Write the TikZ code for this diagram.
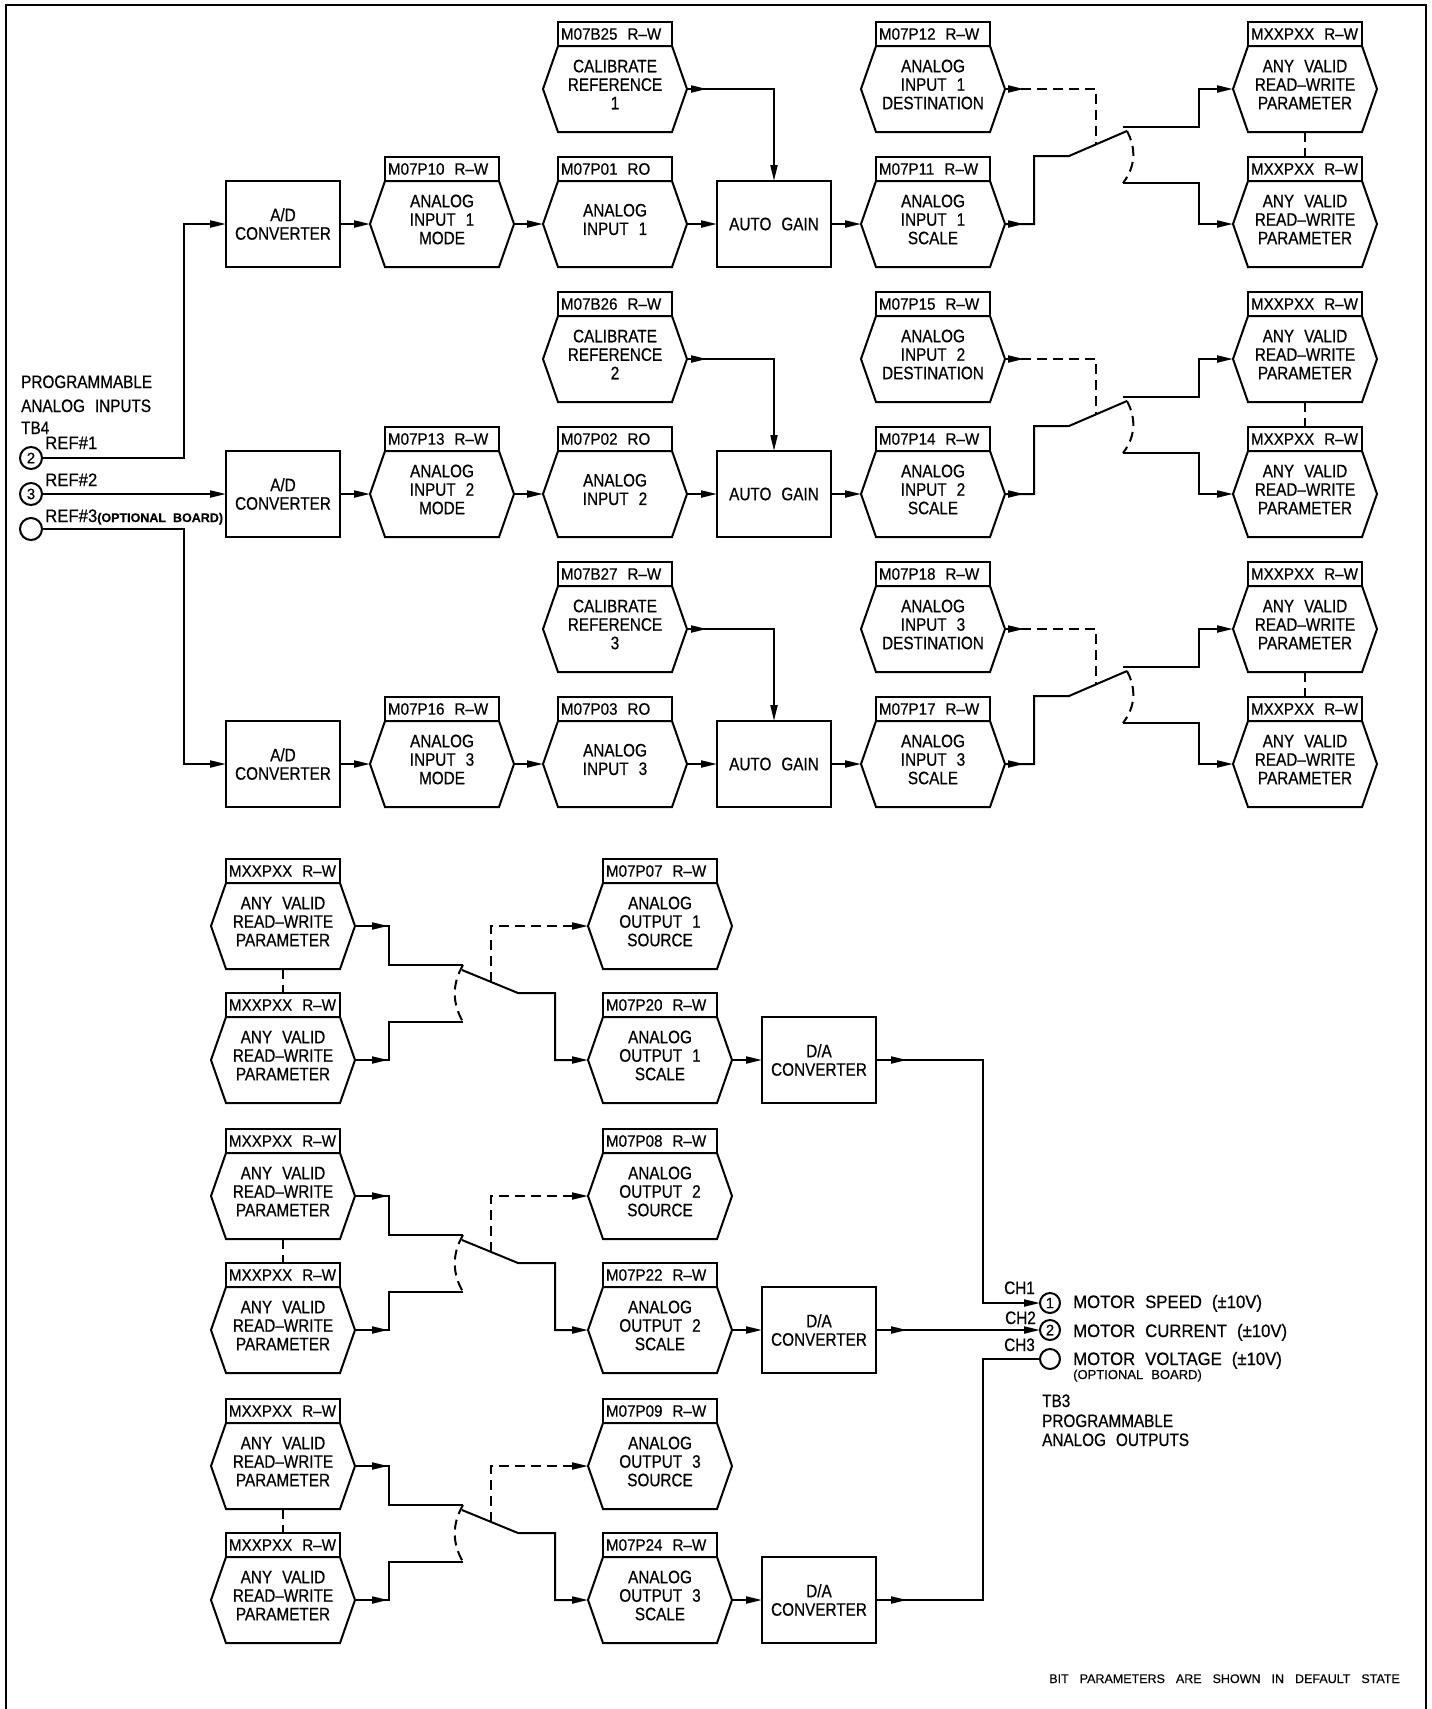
\documentclass[tikz,border=0pt]{standalone}
\usepackage{fontspec}
\setmainfont{Liberation Sans}
\newfontfamily\cadfont{Liberation Sans}[FakeStretch=0.85,FakeBold=0.6]
\newfontfamily\cadlab{Liberation Sans}[FakeStretch=0.92,FakeBold=0.5]
\newfontfamily\cadwide{Liberation Sans}[FakeStretch=0.93,FakeBold=0.6]
\newfontfamily\cadn{Liberation Sans}[FakeBold=0.4]
\usetikzlibrary{arrows.meta,decorations.markings}
\newcommand\bodyfont{\cadfont\fontsize{18}{18.5}\selectfont\spaceskip=10pt\relax}
\newcommand\widefont{\cadwide\fontsize{18}{18.5}\selectfont\spaceskip=10pt\relax}
\newcommand\labfont{\cadlab\fontsize{16.5}{17}\selectfont}
\newcommand\gap{\hspace{10pt}}
\newcommand\optfont{\cadn\fontsize{13}{14}\selectfont\spaceskip=8pt\relax}
\newcommand\optbold{\cadn\bfseries\fontsize{12.5}{13}\selectfont\spaceskip=7pt\relax}
\newcommand\notefont{\cadn\fontsize{12.5}{13}\selectfont\spaceskip=11pt\relax}
\newcommand\numfont{\cadn\fontsize{15}{15}\selectfont}
\tikzset{
  cadtip/.tip={Triangle[length=16pt,width=7pt]},
  ln/.style={line width=2pt},
  conn/.style={ln,-cadtip},
  dashln/.style={ln,dash pattern=on 10pt off 6pt},
  outmark/.style={postaction={decorate,decoration={markings,mark=at position #1 with {\arrow{cadtip}}}}},
  box/.style={draw,ln,minimum width=114pt,minimum height=86pt,inner sep=0pt,outer sep=0pt,font=\bodyfont,align=center},
  hexbody/.style={minimum width=114pt,minimum height=86pt,inner sep=0pt,outer sep=0pt},
  hexlab/.style={draw,ln,minimum width=114pt,minimum height=24pt,inner ysep=0pt,inner xsep=3pt,outer sep=0pt,font=\labfont},
  hextext/.style={inner sep=0pt,font=\bodyfont,align=center},
  term/.style={circle,draw,ln,minimum size=22pt,inner sep=0pt,outer sep=0pt,font=\numfont},
  txt/.style={inner sep=0pt,font=\bodyfont},
  wtxt/.style={inner sep=0pt,font=\widefont},
}
\newcommand\hexp[5]{%
  \node[hexbody] (#1) at (#2,#3) {};
  \draw[ln] (#1.north west) -- (#1.north east) -- ([xshift=15pt]#1.east) -- (#1.south east) -- (#1.south west) -- ([xshift=-15pt]#1.west) -- cycle;
  \node[hexlab,anchor=south] (#1-l) at (#1.north) {\makebox[108pt][l]{#4}};
  \node[hextext] (#1-t) at ([yshift=4.5pt]#1.center) {#5};
  \coordinate (#1-i) at ([xshift=-15pt]#1.west);
  \coordinate (#1-o) at ([xshift=15pt]#1.east);
}
\begin{document}
\begin{tikzpicture}[x=1pt,y=-1pt]
\useasboundingbox (0,0) rectangle (1432,1709);
\draw[line width=2.5pt] (6,1709) -- (6,5) -- (1426,5) -- (1426,1709);

% ---------------- analog inputs ----------------
\foreach \r/\cy/\pa/\pb/\pc/\pd/\pe in {1/224/10/01/25/12/11,2/494/13/02/26/15/14,3/764/16/03/27/18/17}{
  \node[box] (ad\r) at (283,\cy) {A/D\\CONVERTER};
  \hexp{mode\r}{442}{\cy}{M07P\pa\gap R–W}{ANALOG\\INPUT \r\\MODE}
  \hexp{ain\r}{615}{\cy}{M07P\pb\gap RO}{ANALOG\\INPUT \r}
  \hexp{cal\r}{615}{\cy-135}{M07B\pc\gap R–W}{CALIBRATE\\REFERENCE\\\r}
  \node[box] (ag\r) at (774,\cy) {AUTO GAIN};
  \hexp{scl\r}{933}{\cy}{M07P\pe\gap R–W}{ANALOG\\INPUT \r\\SCALE}
  \hexp{dst\r}{933}{\cy-135}{M07P\pd\gap R–W}{ANALOG\\INPUT \r\\DESTINATION}
  \hexp{pa\r}{1305}{\cy-135}{MXXPXX\gap R–W}{ANY VALID\\READ–WRITE\\PARAMETER}
  \hexp{pb\r}{1305}{\cy}{MXXPXX\gap R–W}{ANY VALID\\READ–WRITE\\PARAMETER}
  \coordinate (sp\r) at (1069,\cy-68);
  \coordinate (sb\r) at (1127,\cy-93);
  \coordinate (st\r) at (1123,\cy-97);
  \coordinate (sl\r) at (1123,\cy-41);
  \coordinate (sd\r) at (1096,\cy-80);
  \draw[conn] (ad\r.east) -- (mode\r-i);
  \draw[conn] (mode\r-o) -- (ain\r-i);
  \draw[conn] (ain\r-o) -- (ag\r.west);
  \draw[conn,outmark=20pt] (cal\r-o) -| (ag\r.north);
  \draw[conn] (ag\r.east) -- (scl\r-i);
  \draw[ln,outmark=19pt] (scl\r-o) -- ++(29,0) |- (sp\r) -- (sb\r);
  \draw[conn] (st\r) -- ++(76,0) |- (pa\r-i);
  \draw[conn] (sl\r) -- ++(76,0) |- (pb\r-i);
  \draw[dashln,outmark=19pt] (dst\r-o) -| (sd\r);
  \draw[dashln] (sb\r) .. controls (1136,\cy-76) and (1136,\cy-58) .. (sl\r);
  \draw[dashln] (pa\r.south) -- (pb\r-l.north);
}

% TB4 terminals
\node[term] (t2) at (31,458) {2};
\node[term] (t3) at (31,494) {3};
\node[term] (te) at (31,529) {};
\draw[conn] (t2.east) -- ++(142,0) |- (ad1.west);
\draw[conn] (t3.east) -- (ad2.west);
\draw[conn] (te.east) -- ++(142,0) |- (ad3.west);
\node[txt,anchor=base west] (tpa) at (21,388) {PROGRAMMABLE};
\node[txt,anchor=base west] (tpb) at (21,412) {ANALOG INPUTS};
\node[txt,anchor=base west] (ttb) at (21,434) {TB4};
\node[wtxt,anchor=base west] (tr1) at (45,449) {REF\#1};
\node[wtxt,anchor=base west] (tr2) at (45,486) {REF\#2};
\node[wtxt,anchor=base west] (tr3) at (45,522) {REF\#3{\optbold(OPTIONAL BOARD)}};

% ---------------- analog outputs ----------------
\foreach \k/\uy/\ps/\pt in {1/926/07/20,2/1196/08/22,3/1466/09/24}{
  \hexp{ou\k}{283}{\uy}{MXXPXX\gap R–W}{ANY VALID\\READ–WRITE\\PARAMETER}
  \hexp{ol\k}{283}{\uy+134}{MXXPXX\gap R–W}{ANY VALID\\READ–WRITE\\PARAMETER}
  \hexp{src\k}{660}{\uy}{M07P\ps\gap R–W}{ANALOG\\OUTPUT \k\\SOURCE}
  \hexp{osc\k}{660}{\uy+134}{M07P\pt\gap R–W}{ANALOG\\OUTPUT \k\\SCALE}
  \node[box] (da\k) at (819,\uy+134) {D/A\\CONVERTER};
  \coordinate (ct\k) at (463,\uy+39);
  \coordinate (cl\k) at (463,\uy+96);
  \coordinate (bt\k) at (462,\uy+44);
  \coordinate (bp\k) at (518,\uy+67);
  \coordinate (bd\k) at (491,\uy+56);
  \draw[ln,outmark=33pt] (ou\k-o) -- ++(34,0) |- (ct\k);
  \draw[ln,outmark=33pt] (ol\k-o) -- ++(34,0) |- (cl\k);
  \draw[dashln] (ct\k) .. controls (452,\uy+58) and (452,\uy+77) .. (cl\k);
  \draw[conn] (bt\k) -- (bp\k) -- ++(37,0) |- (osc\k-i);
  \draw[dashln,-cadtip] (bd\k) |- (src\k-i);
  \draw[dashln] (ou\k.south) -- (ol\k-l.north);
  \draw[conn] (osc\k-o) -- (da\k.west);
}

% TB3 terminals
\node[term,minimum size=20pt] (o1) at (1050,1303) {1};
\node[term,minimum size=20pt] (o2) at (1050,1330) {2};
\node[term,minimum size=20pt] (o3) at (1050,1359) {};
\draw[conn,outmark=31pt] (da1.east) -- ++(107,0) |- (o1.west);
\draw[conn,outmark=31pt] (da2.east) -- (o2.west);
\draw[ln,outmark=31pt] (da3.east) -- ++(107,0) |- (o3.west);
\node[txt,anchor=base east] (ch1) at (1035,1294) {CH1};
\node[txt,anchor=base east] (ch2) at (1036,1324) {CH2};
\node[txt,anchor=base east] (ch3) at (1035,1351) {CH3};
\node[wtxt,anchor=base west] (m1) at (1073,1308) {MOTOR SPEED (±10V)};
\node[wtxt,anchor=base west] (m2) at (1073,1337) {MOTOR CURRENT (±10V)};
\node[wtxt,anchor=base west] (m3) at (1073,1365) {MOTOR VOLTAGE (±10V)};
\node[inner sep=0pt,font=\optfont,anchor=base west] (m4) at (1073,1379) {(OPTIONAL BOARD)};
\node[txt,anchor=base west] (tb3) at (1042,1407) {TB3};
\node[txt,anchor=base west] (tb3a) at (1042,1427) {PROGRAMMABLE};
\node[txt,anchor=base west] (tb3b) at (1042,1446) {ANALOG OUTPUTS};
\node[inner sep=0pt,font=\notefont,anchor=base east] (note) at (1400,1683) {BIT PARAMETERS ARE SHOWN IN DEFAULT STATE};
\end{tikzpicture}
\end{document}
